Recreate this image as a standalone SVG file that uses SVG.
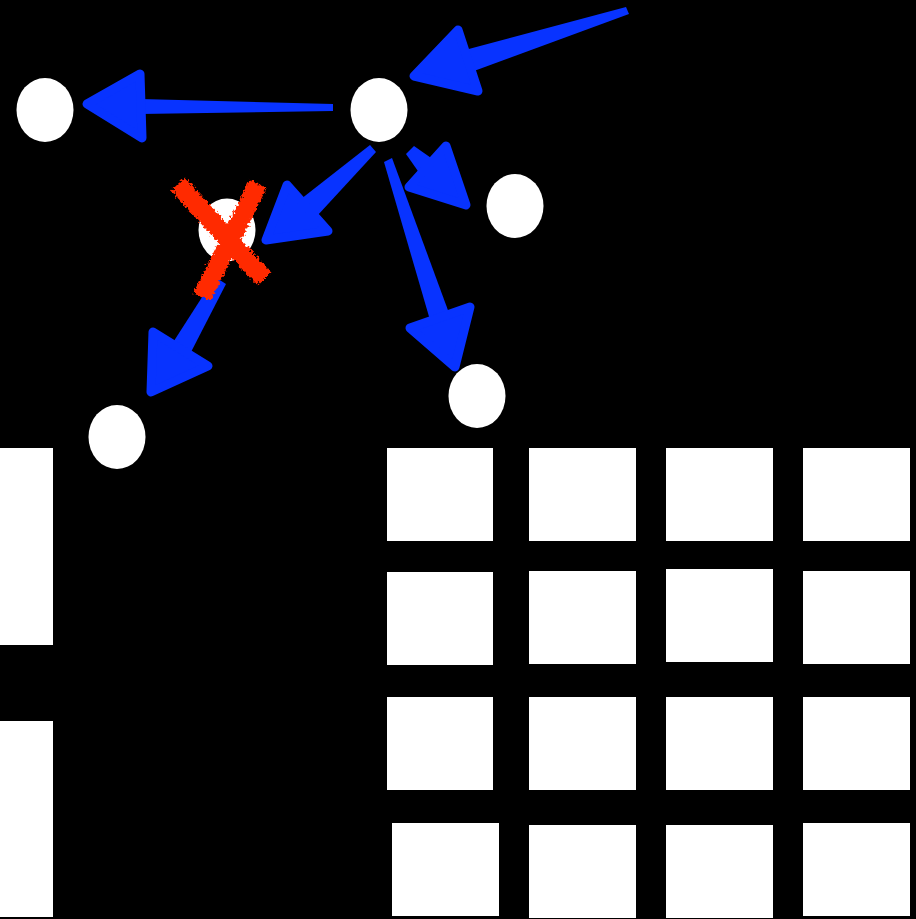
<svg xmlns="http://www.w3.org/2000/svg" width="916" height="919" viewBox="0 0 916 919">
<style>
.node{fill:#ffffff}
.box{fill:#ffffff}
.shaft{fill:#0833ff}
.head{fill:#0833ff;stroke:#0833ff;stroke-width:9;stroke-linejoin:round}
.cross{stroke:#ff2a00;stroke-width:19;stroke-linecap:butt;fill:none}
</style>
<defs>
<filter id="rough" x="-20%" y="-20%" width="140%" height="140%">
<feTurbulence type="fractalNoise" baseFrequency="0.35" numOctaves="2" seed="3" result="n"/>
<feDisplacementMap in="SourceGraphic" in2="n" scale="7" xChannelSelector="R" yChannelSelector="G"/>
</filter>
</defs>
<rect x="0" y="0" width="916" height="919" fill="#000000"/>

<g id="nodes">
<g id="n-top"><ellipse class="node" cx="379" cy="110" rx="28.5" ry="32"/></g>
<g id="n-left"><ellipse class="node" cx="45" cy="110" rx="28.5" ry="32"/></g>
<g id="n-crossed"><ellipse class="node" cx="227" cy="230" rx="28.5" ry="31.5"/></g>
<g id="n-right"><ellipse class="node" cx="515" cy="206" rx="28.5" ry="32"/></g>
<g id="n-bottom-right"><ellipse class="node" cx="477" cy="396" rx="28.5" ry="32"/></g>
<g id="n-bottom-left"><ellipse class="node" cx="117" cy="437" rx="28.5" ry="32"/></g>
</g>

<g id="connectors">
<g id="a1">
<polygon class="shaft" points="626,7 629,14 474,71 465,50"/>
<polygon class="head" points="414,76 458,30 478,91"/>
</g>
<g id="a2">
<polygon class="shaft" points="333,104 333,111 140,114 140,99"/>
<polygon class="head" points="87,104 140,74 142,138"/>
</g>
<g id="a3">
<polygon class="shaft" points="370,145 376,152 317,216 301,199"/>
<polygon class="head" points="266,240 287,185 328,231"/>
</g>
<g id="a4">
<polygon class="shaft" points="414,146 406,154 420,174 434,160"/>
<polygon class="head" points="466,205 446,146 409,187"/>
</g>
<g id="a5">
<polygon class="shaft" points="392,158 449,313 430,320 384,162"/>
<polygon class="head" points="455,367 410,328 470,307"/>
</g>
<g id="a6">
<polygon class="shaft" points="226,284 190,354 172,344 215,277"/>
<polygon class="head" points="151,392 153,332 208,366"/>
</g>
</g>

<g id="cross" filter="url(#rough)">
<line class="cross" x1="178" y1="184" x2="264" y2="279"/>
<line class="cross" x1="258" y1="184" x2="202" y2="297"/>
</g>

<g id="grid">
<rect class="box" x="387" y="448" width="106" height="93"/>
<rect class="box" x="529" y="448" width="107" height="93"/>
<rect class="box" x="666" y="448" width="107" height="93"/>
<rect class="box" x="803" y="448" width="107" height="93"/>
<rect class="box" x="387" y="572" width="106" height="93"/>
<rect class="box" x="529" y="571" width="107" height="93"/>
<rect class="box" x="666" y="569" width="107" height="93"/>
<rect class="box" x="803" y="571" width="107" height="93"/>
<rect class="box" x="387" y="697" width="106" height="93"/>
<rect class="box" x="529" y="697" width="107" height="93"/>
<rect class="box" x="666" y="697" width="107" height="93"/>
<rect class="box" x="803" y="697" width="107" height="93"/>
<rect class="box" x="392" y="823" width="107" height="93"/>
<rect class="box" x="529" y="825" width="107" height="93"/>
<rect class="box" x="666" y="825" width="107" height="93"/>
<rect class="box" x="803" y="823" width="107" height="93"/>
</g>

<g id="left-bars">
<rect class="box" x="0" y="448" width="53" height="197"/>
<rect class="box" x="0" y="721" width="53" height="196"/>
</g>
</svg>
